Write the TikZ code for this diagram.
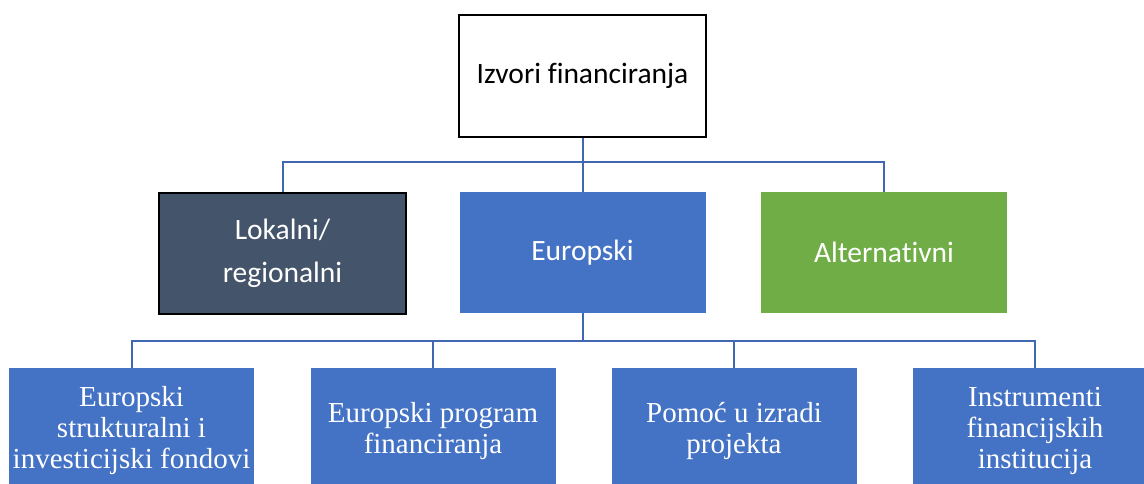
\documentclass[tikz,border=0pt]{standalone}
\usepackage{fontspec}
\setmainfont{Liberation Serif}
\newfontfamily\calfont[Ligatures=NoCommon]{Carlito}
\definecolor{darkslate}{HTML}{44546A}
\definecolor{eublue}{HTML}{4472C4}
\definecolor{altgreen}{HTML}{70AD47}
\definecolor{linkblue}{HTML}{4068B2}
\begin{document}
\begin{tikzpicture}[x=1pt,y=-1pt,
  topbox/.style={draw=black,line width=2.5pt,fill=white,inner sep=0pt,minimum width=247pt,minimum height=122pt,font=\calfont\fontsize{29.5}{36}\selectfont,align=center},
  midbox/.style={inner sep=0pt,minimum width=246pt,minimum height=121pt,font=\calfont\fontsize{29.5}{43}\selectfont,text=white,align=center},
  lowbox/.style={fill=eublue,inner sep=0pt,minimum width=245pt,minimum height=126pt,font=\fontsize{29}{31}\selectfont,text=white,align=center},
  link/.style={draw=linkblue,line width=2pt}]
\useasboundingbox (0,0) rectangle (1144,483);
\node[topbox] (top) at (582.5,76) {Izvori financiranja};
\node[midbox,fill=darkslate,draw=black,line width=2.5pt,minimum width=247pt,minimum height=121pt] (lok) at (282.5,253.5) {Lokalni/\\regionalni};
\node[midbox,fill=eublue] (eu) at (582.5,252.5) {Europski};
\node[midbox,fill=altgreen] (alt) at (884,252.5) {Alternativni};
\node[lowbox] (b1) at (131.5,431) {Europski\\strukturalni i\\investicijski fondovi};
\node[lowbox] (b2) at (433,431) {Europski program\\financiranja};
\node[lowbox] (b3) at (734,431) {Pomoć u izradi\\projekta};
\node[lowbox] (b4) at (1035,431) {Instrumenti\\financijskih\\institucija};
\coordinate (h1) at (582.5,162);
\coordinate (h2) at (582.5,341);
\draw[link] (top.south) -- (h1);
\draw[link] (h1) -| (lok.north);
\draw[link] (h1) -- (eu.north);
\draw[link] (h1) -| (alt.north);
\draw[link] (eu.south) -- (h2);
\draw[link] (h2) -| (b1.north);
\draw[link] (h2) -| (b2.north);
\draw[link] (h2) -| (b3.north);
\draw[link] (h2) -| (b4.north);
\end{tikzpicture}
\end{document}
